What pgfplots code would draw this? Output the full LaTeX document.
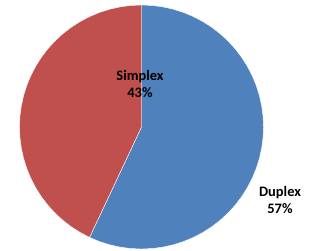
\documentclass[border=0pt]{standalone}
\usepackage{pgfplots}
\pgfplotsset{compat=1.18}
\usepackage{fontspec}
\setmainfont{Carlito}
\definecolor{pieblue}{HTML}{4F81BD}
\definecolor{piered}{HTML}{C0504D}
% Shares: Duplex 57%, Simplex 43%; Duplex runs clockwise from 90 deg to 90-0.57*360 = -115.2 (=244.8)
\begin{document}
\begin{tikzpicture}
\useasboundingbox (0,0) rectangle (318bp,251bp);
\begin{axis}[
  at={(141.5bp,124bp)}, anchor=center,
  width=244bp, height=244bp, scale only axis,
  xmin=-1, xmax=1, ymin=-1, ymax=1,
  hide axis, clip=false,
]
\addplot[fill=pieblue, draw=white, line width=0.4pt, data cs=polar] coordinates {
 (0,0) (90,1) (85,1) (80,1) (75,1) (70,1) (65,1) (60,1) (55,1) (50,1) (45,1) (40,1) (35,1) (30,1) (25,1) (20,1) (15,1) (10,1) (5,1) (0,1)
 (355,1) (350,1) (345,1) (340,1) (335,1) (330,1) (325,1) (320,1) (315,1) (310,1) (305,1) (300,1) (295,1) (290,1) (285,1) (280,1) (275,1) (270,1) (265,1) (260,1) (255,1) (250,1) (245,1) (244.8,1) (0,0)
} -- cycle;
\addplot[fill=piered, draw=white, line width=0.4pt, data cs=polar] coordinates {
 (0,0) (244.8,1) (240,1) (235,1) (230,1) (225,1) (220,1) (215,1) (210,1) (205,1) (200,1) (195,1) (190,1) (185,1) (180,1) (175,1) (170,1) (165,1) (160,1) (155,1) (150,1) (145,1) (140,1) (135,1) (130,1) (125,1) (120,1) (115,1) (110,1) (105,1) (100,1) (95,1) (90,1) (0,0)
} -- cycle;
\end{axis}
\node[align=center, font=\fontsize{14.5}{18}\selectfont\bfseries] at (140bp,167bp) {Simplex\\43\%};
\node[align=center, font=\fontsize{14.5}{18}\selectfont\bfseries] at (280bp,51bp) {Duplex\\57\%};
\end{tikzpicture}
\end{document}
